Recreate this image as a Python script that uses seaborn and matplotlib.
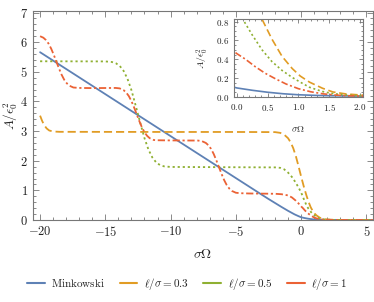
import matplotlib
matplotlib.use("Agg")
import matplotlib.pyplot as plt
from matplotlib.ticker import MultipleLocator, FuncFormatter
from matplotlib.lines import Line2D
import seaborn as sns

sns.set_style("white")
plt.rcParams["mathtext.fontset"] = "cm"
plt.rcParams["font.family"] = ["DejaVu Serif"]

# ---- data ----
mink_x = [-20, -10, -5, -3, -2.5, -2, -1.5, -1.0, -0.5, -0.2, 0, 0.25, 0.5, 0.75,
          1.0, 1.25, 1.5, 2.0, 3.0, 5.5]
mink_y = [5.66, 2.83, 1.415, 0.85, 0.71, 0.575, 0.44, 0.31, 0.19, 0.13, 0.093, 0.068,
          0.047, 0.031, 0.02, 0.014, 0.01, 0.006, 0.002, 0.0]

l03_x = [-20, -19.85, -19.7, -19.5, -19.3, -19.0, -18.5, -10, -5, -2, -1.6, -1.3, -1.0,
         -0.8, -0.6, -0.4, -0.2, 0, 0.2, 0.4, 0.57, 0.735, 0.9, 1.03, 1.18, 1.39, 1.56,
         1.77, 2.0, 2.5, 3.0, 4.0, 5.5]
l03_y = [3.52, 3.35, 3.21, 3.09, 3.02, 2.985, 2.975, 2.97, 2.97, 2.965, 2.94, 2.88, 2.76,
         2.62, 2.42, 2.15, 1.82, 1.47, 1.14, 0.84, 0.615, 0.43, 0.30, 0.22, 0.155, 0.09,
         0.05, 0.029, 0.018, 0.006, 0.002, 0.0, 0.0]

l05_x = [-20, -15, -14.5, -14.2, -13.9, -13.6, -13.3, -13.0, -12.75, -12.5, -12.25, -12.0,
         -11.7, -11.4, -11.1, -10.8, -10.5, -10, -5, -2, -1.6, -1.3, -1.0, -0.7, -0.44,
         -0.2, 0, 0.086, 0.25, 0.41, 0.57, 0.735, 0.9, 1.03, 1.18, 1.39, 1.56, 1.77, 2.0,
         2.5, 3.0, 4.0, 5.5]
l05_y = [5.355, 5.35, 5.33, 5.29, 5.2, 5.03, 4.76, 4.38, 3.98, 3.57, 3.16, 2.76, 2.38,
         2.11, 1.94, 1.85, 1.81, 1.79, 1.78, 1.775, 1.76, 1.71, 1.6, 1.45, 1.28, 1.1, 0.93,
         0.84, 0.66, 0.50, 0.375, 0.28, 0.205, 0.155, 0.10, 0.055, 0.032, 0.018, 0.01,
         0.003, 0.001, 0.0, 0.0]

l1_x = [-20, -19.75, -19.55, -19.35, -19.15, -18.95, -18.75, -18.55, -18.35, -18.15,
        -17.95, -17.75, -17.45, -17.0, -16.0, -14.2, -13.9, -13.6, -13.4, -13.2, -13.0,
        -12.8, -12.6, -12.4, -12.2, -12.0, -11.8, -11.6, -11.3, -11.0, -10.0, -7.9, -7.6,
        -7.3, -7.1, -6.9, -6.7, -6.5, -6.3, -6.1, -5.9, -5.7, -5.5, -5.3, -5.0, -4.7,
        -4.0, -3.0, -2.0, -1.5, -1.0, -0.7, -0.4, -0.2, 0, 0.14, 0.3, 0.46, 0.63, 0.8,
        1.0, 1.2, 1.4, 1.6, 1.8, 2.0, 2.5, 3.0, 4.0, 5.5]
l1_y = [6.2, 6.15, 6.07, 5.95, 5.78, 5.57, 5.34, 5.11, 4.9, 4.73, 4.61, 4.53, 4.47, 4.455,
        4.45, 4.455, 4.44, 4.38, 4.3, 4.18, 4.01, 3.8, 3.57, 3.34, 3.13, 2.96, 2.84, 2.76,
        2.7, 2.69, 2.685, 2.68, 2.66, 2.6, 2.52, 2.4, 2.23, 2.02, 1.79, 1.56, 1.35, 1.18,
        1.06, 0.98, 0.92, 0.905, 0.895, 0.89, 0.885, 0.87, 0.83, 0.76, 0.65, 0.56, 0.46,
        0.40, 0.32, 0.25, 0.19, 0.135, 0.085, 0.052, 0.03, 0.017, 0.01, 0.006, 0.002,
        0.0005, 0.0, 0.0]

labels = [r"$\mathrm{Minkowski}$", r"$\ell/\sigma=0.3$", r"$\ell/\sigma=0.5$", r"$\ell/\sigma=1$"]
colors = ["#5E81B5", "#E19C24", "#8FB032", "#EB6235"]
styles = ["-", (0, (4.5, 2.2)), (0, (1.2, 1.6)), (0, (4, 1.5, 1.2, 1.5))]
series = [(mink_x, mink_y), (l03_x, l03_y), (l05_x, l05_y), (l1_x, l1_y)]

frame_col = "#777777"
text_col = "#222222"

fig = plt.figure(figsize=(3.74, 3.02), dpi=100)
ax = fig.add_axes([0.088, 0.2715, 0.909, 0.692])

fmt = FuncFormatter(lambda v, p: "$%g$" % v)
fmt1 = FuncFormatter(lambda v, p: "$%.1f$" % v)


def style_axes(a, fs, maj, minr):
    for s in a.spines.values():
        s.set_color(frame_col)
        s.set_linewidth(0.8)
    a.tick_params(which="both", direction="in", top=True, right=True,
                  bottom=True, left=True, colors=frame_col, labelcolor=text_col,
                  labelsize=fs, width=0.6)
    a.tick_params(which="major", length=maj)
    a.tick_params(which="minor", length=minr)


for (xs, ys), c, ls in zip(series, colors, styles):
    sns.lineplot(x=xs, y=ys, ax=ax, color=c, sort=False, estimator=None,
                 linewidth=1.3, linestyle=ls)
ax.set_xlim(-20.55, 5.5)
ax.set_ylim(0, 7.05)
ax.xaxis.set_major_locator(MultipleLocator(5))
ax.xaxis.set_minor_locator(MultipleLocator(1))
ax.yaxis.set_major_locator(MultipleLocator(1))
ax.yaxis.set_minor_locator(MultipleLocator(0.2))
ax.xaxis.set_major_formatter(fmt)
ax.yaxis.set_major_formatter(fmt)
style_axes(ax, 9, 4, 2)
ax.set_xlabel(r"$\sigma\Omega$", fontsize=10, color=text_col, labelpad=6)
ax.set_ylabel(r"$A/\epsilon_0^2$", fontsize=9.5, color=text_col)
ax.yaxis.set_label_coords(-0.038, 0.5)

# inset
axi = fig.add_axes([0.625, 0.678, 0.3457, 0.259])
axi.set_facecolor("white")
for (xs, ys), c, ls in zip(series, colors, styles):
    sns.lineplot(x=xs, y=ys, ax=axi, color=c, sort=False, estimator=None,
                 linewidth=1.2, linestyle=ls)
axi.set_xlim(-0.049, 2.049)
axi.set_ylim(-0.0064, 0.829)
axi.xaxis.set_major_locator(MultipleLocator(0.5))
axi.xaxis.set_minor_locator(MultipleLocator(0.1))
axi.yaxis.set_major_locator(MultipleLocator(0.2))
axi.yaxis.set_minor_locator(MultipleLocator(0.05))
axi.xaxis.set_major_formatter(fmt1)
axi.yaxis.set_major_formatter(fmt1)
style_axes(axi, 6.5, 3, 1.5)
axi.set_xlabel(r"$\sigma\Omega$", fontsize=7, color=text_col, labelpad=8)
axi.set_ylabel(r"$A/\epsilon_0^2$", fontsize=7, color=text_col, labelpad=3)

handles = [Line2D([], [], color=c, lw=1.5) for c in colors]
fig.legend(handles, labels, loc="lower center", bbox_to_anchor=(0.5, 0.0), ncol=4,
           frameon=False, fontsize=8, handlelength=1.6, handletextpad=0.6,
           columnspacing=1.3, labelcolor=text_col)

fig.savefig("out.png", dpi=100)
